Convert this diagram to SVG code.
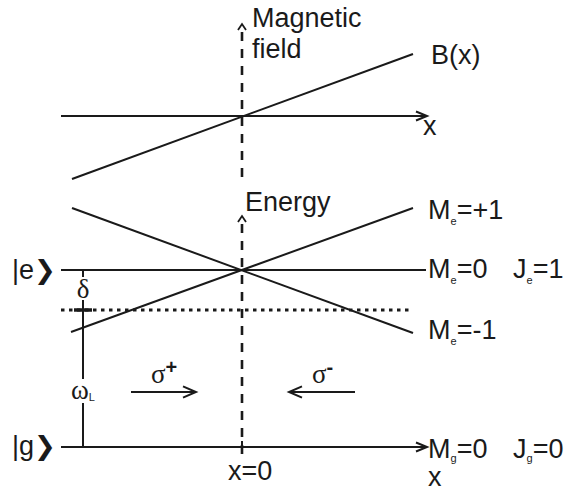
<svg xmlns="http://www.w3.org/2000/svg" width="567" height="493" viewBox="0 0 567 493">
<defs>
<style>
.ln{stroke:#1a1a1a;stroke-width:2;fill:none}
.dash{stroke:#1a1a1a;stroke-width:2.6;fill:none;stroke-dasharray:9 8}
.dot{stroke:#1a1a1a;stroke-width:3;fill:none;stroke-dasharray:3.5 4.5}
.t{font-family:"Liberation Sans",Arial,sans-serif;font-size:27px;fill:#1a1a1a}
.s{font-family:"Liberation Sans",Arial,sans-serif;font-size:11px;fill:#1a1a1a}
.g{font-family:"Liberation Serif","Times New Roman",serif;font-size:27px;fill:#1a1a1a}
.ch{font-family:"DejaVu Sans",sans-serif;font-size:26px;font-weight:bold}
</style>
<marker id="ah" markerUnits="userSpaceOnUse" markerWidth="14" markerHeight="12" refX="11" refY="5" orient="auto" overflow="visible">
<path d="M0,0.5 L11,5 L0,9.5" fill="none" stroke="#1a1a1a" stroke-width="2"/>
</marker>
<marker id="ahs" markerUnits="userSpaceOnUse" markerWidth="10" markerHeight="10" refX="6" refY="4" orient="auto" overflow="visible">
<path d="M0,0 L6,4 L0,8" fill="none" stroke="#1a1a1a" stroke-width="1.8"/>
</marker>
<marker id="ahb" markerUnits="userSpaceOnUse" markerWidth="16" markerHeight="14" refX="13" refY="6" orient="auto" overflow="visible">
<path d="M0,0.3 L13,6 L0,11.7" fill="none" stroke="#1a1a1a" stroke-width="2"/>
</marker>
</defs>
<g id="connectors">
<line id="bfield-axis" class="dash" x1="242" y1="177" x2="242" y2="24" marker-end="url(#ahs)"/>
<line id="energy-axis" class="dash" x1="242" y1="454" x2="242" y2="216" marker-end="url(#ahs)"/>
<line id="x-axis-top" class="ln" x1="61" y1="116" x2="427" y2="116" marker-end="url(#ah)"/>
<line id="bx-line" class="ln" x1="72" y1="179" x2="413" y2="54"/>
<line id="me-minus" class="ln" x1="72" y1="208" x2="413" y2="333"/>
<line id="me-plus" class="ln" x1="71" y1="332" x2="413" y2="208"/>
<line id="me-zero" class="ln" x1="61" y1="270" x2="426" y2="270"/>
<line id="laser-level" class="dot" x1="61" y1="310" x2="412" y2="310"/>
<line id="ground" class="ln" x1="61" y1="447" x2="427" y2="447" marker-end="url(#ah)"/>
<line id="x0-tick" class="ln" x1="242" y1="441" x2="242" y2="454"/>
<line class="ln" x1="83" y1="270" x2="83" y2="277"/>
<line class="ln" x1="83" y1="300" x2="83" y2="379"/>
<line class="ln" x1="83" y1="403" x2="83" y2="447"/>
<line id="delta-tick" stroke="#1a1a1a" stroke-width="3.5" x1="74" y1="310" x2="92" y2="310"/>
<line id="sigma-plus-arrow" class="ln" x1="131" y1="392" x2="196" y2="392" marker-end="url(#ahb)"/>
<line id="sigma-minus-arrow" class="ln" x1="355" y1="392" x2="289" y2="392" marker-end="url(#ahb)"/>
</g>
<g id="labels">
<g id="magnetic-field"><text class="t" x="252" y="27">Magnetic</text><text class="t" x="252" y="58">field</text></g>
<g id="bx-label"><text class="t" x="431" y="64">B(x)</text></g>
<g id="x-top-label"><text class="t" x="423" y="135">x</text></g>
<g id="energy-label"><text class="t" x="245" y="211">Energy</text></g>
<g id="me-plus-label"><text class="t" x="428" y="219">M<tspan class="s" dy="6">e</tspan><tspan dy="-6">=+1</tspan></text></g>
<g id="me-zero-label"><text class="t" x="428" y="278">M<tspan class="s" dy="6">e</tspan><tspan dy="-6">=0</tspan></text><text class="t" x="513" y="278">J<tspan class="s" dy="6">e</tspan><tspan dy="-6">=1</tspan></text></g>
<g id="me-minus-label"><text class="t" x="428" y="339">M<tspan class="s" dy="6">e</tspan><tspan dy="-6">=-1</tspan></text></g>
<g id="mg-label"><text class="t" x="428" y="458">M<tspan class="s" font-size="10" dy="4">g</tspan><tspan dy="-4">=0</tspan></text><text class="t" x="513" y="458">J<tspan class="s" font-size="10" dy="4">g</tspan><tspan dy="-4">=0</tspan></text></g>
<g id="x-bottom-label"><text class="t" x="428" y="486">x</text></g>
<g id="x0-label"><text class="t" x="228" y="480">x=0</text></g>
<g id="e-state"><text class="t" x="12" y="279">|e<tspan class="ch">❯</tspan></text></g>
<g id="g-state"><text class="t" x="12" y="455">|g<tspan class="ch">❯</tspan></text></g>
<g id="delta"><text class="g" x="83" y="298" text-anchor="middle" font-size="25">δ</text></g>
<g id="omega"><text class="g" x="83" y="399" text-anchor="middle">ω<tspan class="s" font-size="9" dy="2">L</tspan></text></g>
<g id="sigma-plus"><text class="g" x="151" y="383">σ<tspan font-family="Liberation Sans,Arial,sans-serif" font-size="20" font-weight="bold" dy="-9">+</tspan></text></g>
<g id="sigma-minus"><text class="g" x="312" y="383">σ<tspan font-family="Liberation Sans,Arial,sans-serif" font-size="20" font-weight="bold" dy="-9">-</tspan></text></g>
</g>
</svg>
